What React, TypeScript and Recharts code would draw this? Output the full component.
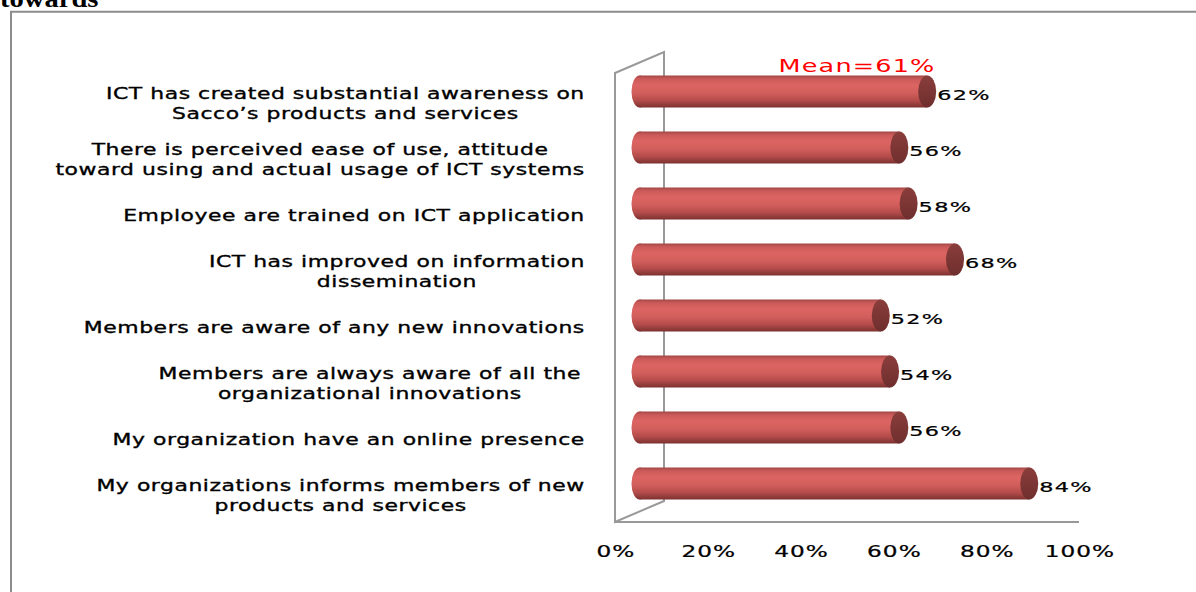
import React from 'react';
import { BarChart, Bar, XAxis, YAxis, Customized, LabelList } from 'recharts';

// ---- data ----
const categories = [
  "ICT has created substantial awareness on\nSacco’s products and services",
  "There is perceived ease of use, attitude\ntoward using and actual usage of ICT systems",
  "Employee are trained on ICT application",
  "ICT has improved on information\ndissemination",
  "Members are aware of any new innovations",
  "Members are always aware of all  the\norganizational innovations",
  "My organization have an online presence",
  "My organizations informs members of new\nproducts and services",
];
const values = [62, 56, 58, 68, 52, 54, 56, 84];
const xTicks = [0, 20, 40, 60, 80, 100];
const meanText = "Mean=61%";
const titleText = "towards";

const data = categories.map((name, i) => ({ name, value: values[i] }));

// ---- layout / style ----
const W = 1196;
const H = 592;
const PLOT_LEFT = 615;
const PLOT_RIGHT = 1079;
const PLOT_TOP = 74;
const PLOT_BOTTOM = 522;
const DEPTH_X = 49;
const DEPTH_Y = -21;
const DX = DEPTH_X / 2;
const DY = DEPTH_Y / 2;
const FONT = 'DejaVu Sans';
const WALL = '#999999';
const LABEL_RIGHT = 585;

const CAT_SX = 1.37;
const CAT_LS = 0.4;

let ctx: CanvasRenderingContext2D | null = null;
function textWidth(s: string, size: number, ls: number) {
  if (!ctx) ctx = document.createElement('canvas').getContext('2d');
  if (!ctx) return s.length * size * 0.55;
  ctx.font = `${size}px "${FONT}"`;
  return ctx.measureText(s).width + ls * s.length;
}

const CategoryTick = (props: any) => {
  const { y, payload } = props;
  const lines: string[] = String(payload.value).split('\n');
  const n = lines.length;
  const maxW = Math.max(...lines.map((l) => textWidth(l, 16, CAT_LS))) * CAT_SX;
  const cx = LABEL_RIGHT - maxW / 2;
  return (
    <g>
      {lines.map((l, i) => (
        <text
          key={i}
          transform={`translate(${cx},${y + 7 + (i - (n - 1) / 2) * 20}) scale(${CAT_SX},1)`}
          textAnchor="middle"
          fontFamily={FONT}
          fontSize={16}
          letterSpacing={CAT_LS}
          fill="#000"
          stroke="#000"
          strokeWidth={0.35}
        >
          {l}
        </text>
      ))}
    </g>
  );
};

const ValueTick = (props: any) => {
  const { x, payload } = props;
  return (
    <text
      transform={`translate(${x + 1},${PLOT_BOTTOM + 34.7}) scale(1.45,1)`}
      textAnchor="middle"
      fontFamily={FONT}
      fontSize={16}
      letterSpacing={0.7}
      fill="#000"
      stroke="#000"
      strokeWidth={0.25}
    >
      {payload.value}%
    </text>
  );
};

const Cylinder = (props: any) => {
  const { x, y, width, height } = props;
  const x0 = x + DX;
  const x1 = x + width + DX;
  const cy = y + height / 2 + DY;
  const ry = height / 2;
  return (
    <g>
      <ellipse cx={x0} cy={cy} rx={8} ry={ry} fill="url(#cylBody)" />
      <rect x={x0} y={cy - ry} width={Math.max(0, x1 - x0)} height={height} fill="url(#cylBody)" />
      <ellipse cx={x1} cy={cy} rx={9} ry={ry} fill="url(#cylCap)" />
    </g>
  );
};

const ValueLabel = (props: any) => {
  const { x, y, width, height, value } = props;
  return (
    <text
      transform={`translate(${x + width + DX + 10},${y + height / 2 + DY + 8.5}) scale(1.6,1)`}
      fontFamily={FONT}
      fontSize={14}
      letterSpacing={0.8}
      fill="#000"
      stroke="#000"
      strokeWidth={0.2}
    >
      {value}%
    </text>
  );
};

const Walls = () => (
  <g>
    <path
      d={`M${PLOT_LEFT},${PLOT_BOTTOM} L${PLOT_LEFT},${PLOT_TOP - 1} L${PLOT_LEFT + DEPTH_X},${PLOT_TOP - 1 + DEPTH_Y} L${PLOT_LEFT + DEPTH_X},${PLOT_BOTTOM + DEPTH_Y} Z`}
      fill="#fff"
      stroke={WALL}
      strokeWidth={2}
    />
  </g>
);

const MeanText = () => (
  <text
    transform={`translate(${PLOT_LEFT + 0.61 * (PLOT_RIGHT - PLOT_LEFT) + DX + 13},${PLOT_TOP - 2.3}) scale(1.5,1)`}
    textAnchor="end"
    fontFamily={FONT}
    fontSize={17}
    letterSpacing={0.8}
    fill="#ff0000"
  >
    {meanText}
  </text>
);

export default function App() {
  return (
    <div style={{ position: 'absolute', left: 0, top: 0, width: W, height: H, overflow: 'hidden', background: '#fff' }}>
      <svg width={W} height={H} style={{ position: 'absolute', left: 0, top: 0 }}>
        <text
          transform={`translate(0,7) scale(1.1,1)`}
          fontFamily="Liberation Serif"
          fontWeight="bold"
          fontSize={26}
          fill="#000"
        >
          {titleText}
        </text>
        <path d={`M11,${H + 5} L11,11.8 L${W + 5},11.8`} fill="none" stroke="#8c8c8c" strokeWidth={2} />
      </svg>
      <div style={{ position: 'absolute', left: 0, top: 0 }}>
        <BarChart
          width={W}
          height={H}
          data={data}
          layout="vertical"
          margin={{ top: PLOT_TOP, right: W - PLOT_RIGHT, bottom: H - PLOT_BOTTOM - 40, left: 0 }}
          barCategoryGap={24}
        >
          <defs>
            <linearGradient id="cylBody" x1="0" y1="0" x2="0" y2="1">
              <stop offset="0" stopColor="#a04645" />
              <stop offset="0.1" stopColor="#cb5a58" />
              <stop offset="0.3" stopColor="#dc6563" />
              <stop offset="0.55" stopColor="#d25e5c" />
              <stop offset="0.8" stopColor="#b04a48" />
              <stop offset="1" stopColor="#7a3231" />
            </linearGradient>
            <linearGradient id="cylCap" x1="0" y1="0" x2="0" y2="1">
              <stop offset="0" stopColor="#8a3e3c" />
              <stop offset="1" stopColor="#6e2e2d" />
            </linearGradient>
          </defs>
          <Customized component={Walls} />
          <XAxis
            type="number"
            domain={[0, 100]}
            ticks={xTicks}
            interval={0}
            height={40}
            tickLine={false}
            axisLine={{ stroke: WALL, strokeWidth: 2 }}
            tick={<ValueTick />}
          />
          <YAxis
            type="category"
            dataKey="name"
            width={PLOT_LEFT}
            interval={0}
            tickLine={false}
            axisLine={false}
            tick={<CategoryTick />}
          />
          <Bar dataKey="value" barSize={32} shape={<Cylinder />} isAnimationActive={false}>
            <LabelList dataKey="value" content={<ValueLabel />} />
          </Bar>
          <Customized component={MeanText} />
        </BarChart>
      </div>
    </div>
  );
}
